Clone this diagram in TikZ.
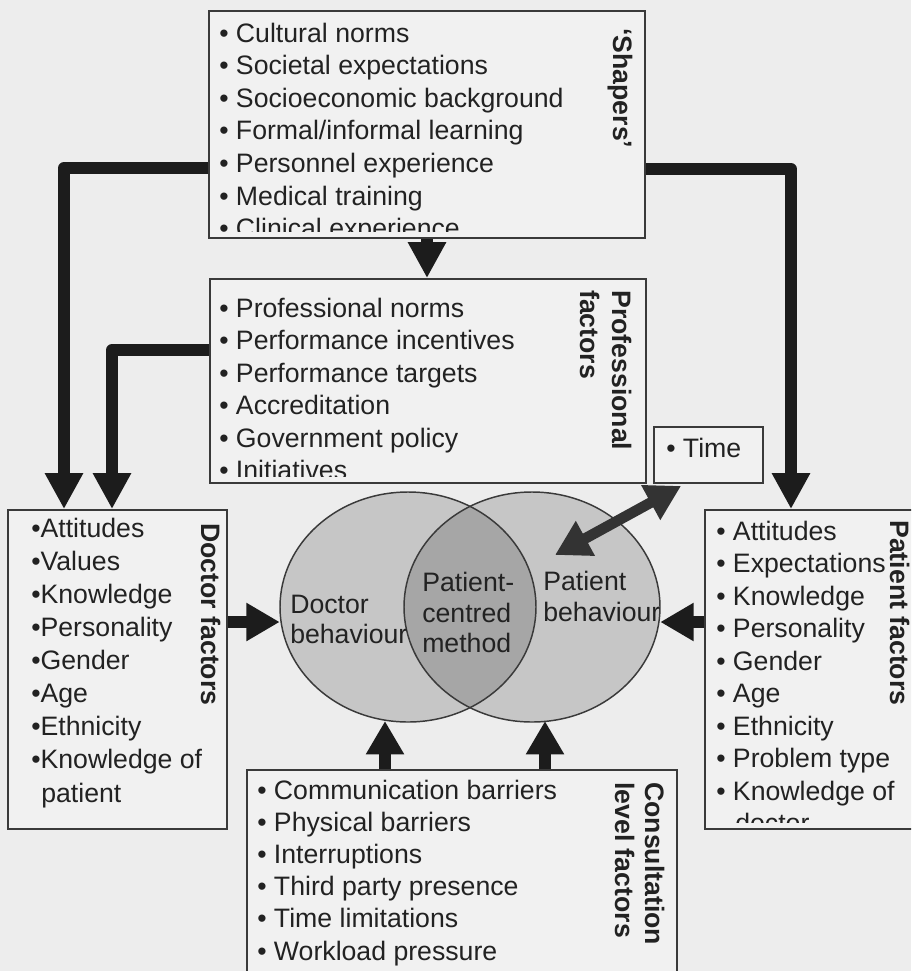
\documentclass[tikz,border=0pt]{standalone}
\usepackage{fontspec}
\setmainfont{Liberation Sans}
\usetikzlibrary{arrows.meta,shapes.geometric,fit,calc}

\definecolor{paper}{HTML}{EDEDED}
\definecolor{boxfill}{HTML}{F1F1F1}
\definecolor{ink}{HTML}{222222}
\definecolor{rim}{HTML}{3A3A3A}
\definecolor{lobe}{HTML}{C6C6C6}
\definecolor{core}{HTML}{A6A6A6}
\definecolor{shaft}{HTML}{1C1C1C}
\definecolor{timeshaft}{HTML}{333333}

\begin{document}
\begin{tikzpicture}[x=0.75pt,y=-0.75pt,
  box/.style={draw=rim, fill=boxfill, line width=1.4pt, inner sep=0pt},
  item/.style={inner sep=0pt, text=ink, anchor=base west,
    font=\fontsize{20pt}{24pt}\selectfont},
  side/.style={inner sep=0pt, text=ink, rotate=-90, anchor=base west,
    font=\bfseries\fontsize{20pt}{24pt}\selectfont},
  lobeshape/.style={ellipse, inner sep=0pt, minimum width=192pt, minimum height=172.5pt},
  flow/.style={draw=shaft, line width=9pt, line join=round,
    -{Triangle[length=27pt,width=27pt]}},
  push/.style={draw=shaft, line width=9.5pt,
    -{Triangle[length=25pt,width=27pt]}},
  linkarrow/.style={draw=timeshaft, line width=8pt,
    {Triangle[length=26pt,width=28pt]}-{Triangle[length=26pt,width=28pt]}}
]
% page
\fill[paper] (0,0) rectangle (911,971);
\useasboundingbox (0,0) rectangle (911,971);
\clip (0,0) rectangle (911,971);

% ---------- boxes ----------
\node[box, fit={(209,11) (645,238)}] (shapers) {};
\node[box, fit={(210,279) (646,483)}] (prof) {};
\node[box, fit={(654,427) (763,483)}] (time) {};
\node[box, fit={(8,510) (227,829)}] (doctor) {};
\node[box, fit={(705,510) (930,829)}] (patient) {};
\node[box, fit={(247,770) (677,990)}] (cons) {};

% Shapers
\begin{scope}
  \clip (209,11) rectangle (645,231);
  \foreach \t [count=\i] in {Cultural norms, Societal expectations,
      Socioeconomic background, Formal/informal learning,
      Personnel experience, Medical training, Clinical experience}
    \node[item] (sh\i) at (219,{42+(\i-1)*32.6}) {\textbullet\ \t};
\end{scope}
\node[side] (shlabel) at (613,28) {`Shapers'};

% Professional factors
\begin{scope}
  \clip (210,279) rectangle (646,476);
  \foreach \t [count=\i] in {Professional norms, Performance incentives,
      Performance targets, Accreditation, Government policy, Initiatives}
    \node[item] (pf\i) at (219,{317+(\i-1)*32.5}) {\textbullet\ \t};
\end{scope}
\node[side] (pflabelA) at (612,290) {Professional};
\node[side] (pflabelB) at (580,290) {factors};

% Time
\node[item] (timetext) at (666,457) {\textbullet\ Time};

% Doctor factors
\foreach \t [count=\i] in {Attitudes, Values, Knowledge, Personality,
    Gender, Age, Ethnicity, Knowledge of}
  \node[item] (df\i) at (31,{537+(\i-1)*33.1}) {\textbullet\t};
\node[item] (df9) at (41,802) {patient};
\node[side] (dflabel) at (201,523) {Doctor factors};

% Patient factors
\begin{scope}
  \clip (705,510) rectangle (930,822);
  \foreach \t [count=\i] in {Attitudes, Expectations, Knowledge, Personality,
      Gender, Age, Ethnicity, Problem type, Knowledge of}
    \node[item] (pt\i) at (716,{540+(\i-1)*32.5}) {\textbullet\ \t};
  \node[item] (pt10) at (735,832.5) {doctor};
\end{scope}
\node[side] (ptlabel) at (890,520) {Patient factors};

% Consultation level factors
\foreach \t [count=\i] in {Communication barriers, Physical barriers,
    Interruptions, Third party presence, Time limitations, Workload pressure}
  \node[item] (cl\i) at (257,{799+(\i-1)*32.2}) {\textbullet\ \t};
\node[side] (cllabelA) at (645,782) {Consultation};
\node[side] (cllabelB) at (615,782) {level factors};

% ---------- overlapping behaviours ----------
\node[lobeshape, fill=lobe] (docc) at (408,607) {};
\node[lobeshape, fill=lobe] (patc) at (532,607) {};
\begin{scope}
  \clip (408,607) ellipse [x radius=96pt, y radius=86.25pt];
  \fill[core] (532,607) ellipse [x radius=96pt, y radius=86.25pt];
\end{scope}
\draw[rim, line width=1.1pt] (408,607) ellipse [x radius=96pt, y radius=86.25pt];
\draw[rim, line width=1.1pt] (532,607) ellipse [x radius=96pt, y radius=86.25pt];

\node[item] (dbA) at (290,613) {Doctor};
\node[item] (dbB) at (290,643) {behaviour};
\node[item] (pcA) at (422,591) {Patient-};
\node[item] (pcB) at (422,622) {centred};
\node[item] (pcC) at (422,652) {method};
\node[item] (pbA) at (543,590) {Patient};
\node[item] (pbB) at (543,621) {behaviour};

% ---------- connectors ----------
\draw[flow] (shapers.west |- 0,168) -| (doctor.north -| 64,0);
\draw[flow] (prof.west |- 0,350) -| (doctor.north -| 112,0);
\draw[flow] (shapers.east |- 0,169) -| (patient.north -| 791,0);
\draw[flow] (shapers.south -| 427,0) -- (prof.north -| 427,0);

\draw[push] (doctor.east |- 0,622) -- (docc.west |- 0,622);
\draw[push] (patient.west |- 0,622) -- (patc.east |- 0,622);
\draw[push] (cons.north -| 385,0) -- (385,721);
\draw[push] (cons.north -| 545,0) -- (545,721);

\coordinate (timein) at (555,555);
\draw[linkarrow] ($(time.south west)+(28,2)$) -- (timein);
\end{tikzpicture}
\end{document}
